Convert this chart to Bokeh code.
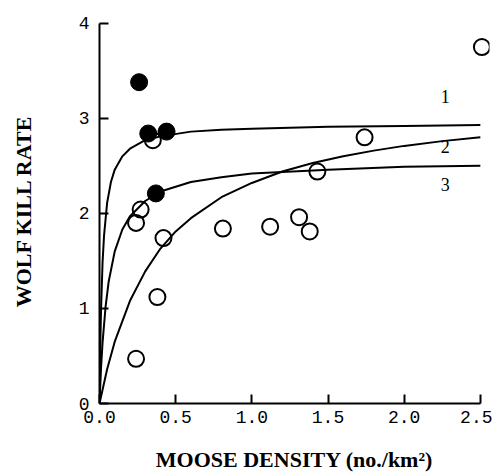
from bokeh.plotting import figure
from bokeh.models import Range1d, FixedTicker
from bokeh.core.properties import value
from bokeh.embed import file_html
from bokeh.resources import INLINE

# Observed data
filled_x = [0.26, 0.32, 0.44, 0.37]
filled_y = [3.38, 2.84, 2.86, 2.21]
open_x = [0.35, 0.27, 0.24, 0.42, 0.38, 0.24, 0.81, 1.12, 1.31, 1.38, 1.43, 1.74, 2.51]
open_y = [2.77, 2.04, 1.90, 1.74, 1.12, 0.47, 1.84, 1.86, 1.96, 1.81, 2.44, 2.80, 3.75]

# Fitted curves
c1_x = [0, 0.005, 0.01, 0.02, 0.03, 0.05, 0.075, 0.1, 0.15, 0.2, 0.3, 0.4, 0.6, 0.8, 1.0, 1.5, 2.0, 2.5]
c1_y = [0, 0.59, 0.98, 1.48, 1.77, 2.11, 2.33, 2.46, 2.60, 2.68, 2.77, 2.81, 2.86, 2.88, 2.89, 2.91, 2.92, 2.93]
c2_x = [0, 0.05, 0.1, 0.2, 0.3, 0.4, 0.5, 0.6, 0.8, 1.0, 1.2, 1.4, 1.6, 1.8, 2.0, 2.25, 2.5]
c2_y = [0, 0.36, 0.65, 1.08, 1.39, 1.63, 1.81, 1.95, 2.17, 2.32, 2.44, 2.53, 2.60, 2.66, 2.71, 2.76, 2.80]
c3_x = [0, 0.01, 0.02, 0.04, 0.06, 0.1, 0.15, 0.2, 0.3, 0.4, 0.6, 0.8, 1.0, 1.5, 2.0, 2.5]
c3_y = [0, 0.37, 0.64, 1.02, 1.28, 1.60, 1.83, 1.97, 2.13, 2.23, 2.33, 2.38, 2.42, 2.46, 2.49, 2.50]

curve_labels = ["1", "2", "3"]
curve_label_x = [2.27, 2.27, 2.27]
curve_label_y = [3.23, 2.70, 2.30]

x_ticks = [0.0, 0.5, 1.0, 1.5, 2.0, 2.5]
y_ticks = [0, 1, 2, 3, 4]

p = figure(width=492, height=475, output_backend="svg", toolbar_location=None,
           x_range=Range1d(0, 2.56), y_range=Range1d(0, 4.05),
           min_border_left=99, min_border_right=3, min_border_top=18, min_border_bottom=72)
p.outline_line_color = None
p.xgrid.visible = False
p.ygrid.visible = False

for xs, ys in [(c1_x, c1_y), (c2_x, c2_y), (c3_x, c3_y)]:
    p.line(xs, ys, line_color="black", line_width=2)

p.scatter(open_x, open_y, size=16, marker="circle", fill_alpha=0,
          line_color="black", line_width=2)
p.scatter(filled_x, filled_y, size=17, marker="circle", fill_color="black",
          line_color="black")

p.text(curve_label_x, curve_label_y, text=curve_labels,
       text_font=value("Liberation Serif"), text_font_size="18px",
       text_align="center", text_baseline="middle", text_color="black")

for ax in (p.xaxis[0], p.yaxis[0]):
    ax.axis_line_width = 2
    ax.major_tick_line_width = 2
    ax.major_tick_in = 9
    ax.major_tick_out = 0
    ax.minor_tick_line_color = None
    ax.major_label_text_font = "Liberation Mono"
    ax.major_label_text_font_size = "18px"
    ax.major_label_text_color = "black"
    ax.axis_label_text_font = "Liberation Serif"
    ax.axis_label_text_font_style = "bold"
    ax.axis_label_text_font_size = "22px"
    ax.axis_label_text_color = "black"

p.xaxis.ticker = FixedTicker(ticks=x_ticks)
p.yaxis.ticker = FixedTicker(ticks=y_ticks)
p.xaxis.bounds = (0, 2.5)
p.yaxis.bounds = (0, 4)
p.xaxis.major_label_overrides = {t: f"{t:.1f}" for t in x_ticks}
p.xaxis.axis_label = "MOOSE DENSITY (no./km²)"
p.yaxis.axis_label = "WOLF KILL RATE"
p.xaxis.major_label_standoff = 7
p.yaxis.major_label_standoff = 10
p.xaxis.axis_label_standoff = 21
p.yaxis.axis_label_standoff = 40

open("out.html", "w").write(file_html(p, INLINE))
